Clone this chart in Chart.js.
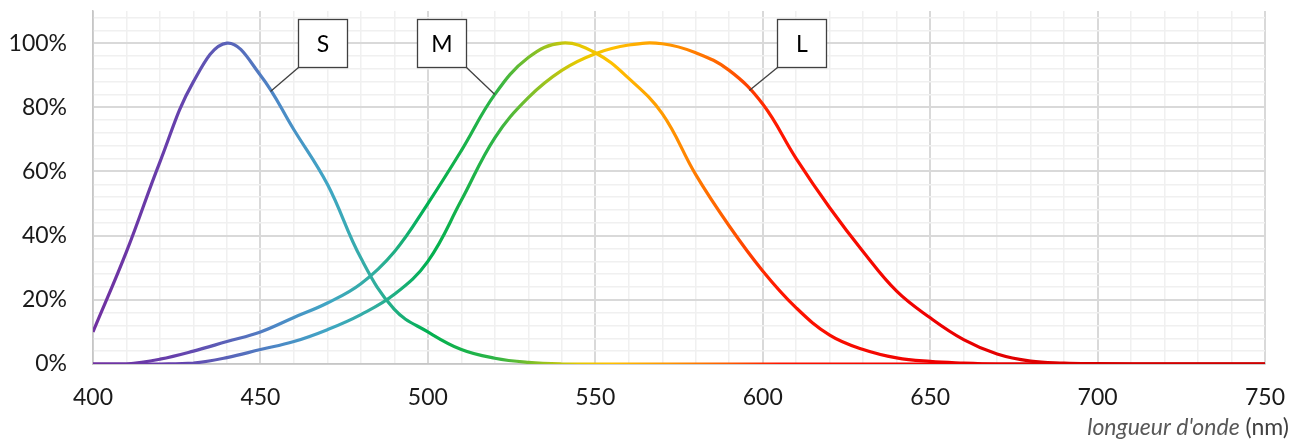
<!DOCTYPE html>
<html>
<head>
<meta charset="utf-8">
<script src="https://cdn.jsdelivr.net/npm/chart.js@4.4.0/dist/chart.umd.min.js"></script>
<style>
  html, body { margin: 0; padding: 0; background: #fff; }
  canvas { display: block; }
</style>
</head>
<body>
<canvas id="coneChart" width="1304" height="443"></canvas>
<script>
// wavelength (nm) and relative sensitivity (%) of each cone type
const wavelengths = [400, 410, 420, 430, 440, 450, 460, 470, 480, 490, 500, 510, 520, 530, 540, 550, 560, 570,
                     580, 590, 600, 610, 620, 630, 640, 650, 660, 670, 680, 690, 700, 710, 720, 730, 740, 750];
const sCone = [10, 35, 63, 88, 100, 90, 73, 56, 33, 17, 10, 4.5, 1.8, 0.5, 0, 0, 0, 0,
               0, 0, 0, 0, 0, 0, 0, 0, 0, 0, 0, 0, 0, 0, 0, 0, 0, 0];
const mCone = [0, 0, 1.5, 4, 7, 10, 14.5, 19, 25, 35, 50, 66.5, 84, 95.5, 100, 97, 89, 78,
               59, 43, 29, 17.5, 9, 4.5, 1.9, 0.8, 0.3, 0, 0, 0, 0, 0, 0, 0, 0, 0];
const lCone = [0, 0, 0, 0.3, 2, 4.5, 7, 10.7, 15.4, 21.7, 32, 51, 70.5, 83, 91.5, 96.7, 99.4, 99.8,
               97, 91.5, 81, 64, 48.7, 35, 22.7, 14.4, 7.6, 3.1, 0.9, 0.3, 0.1, 0, 0, 0, 0, 0];
const curveNames = ['S', 'M', 'L'];
const xMajorLabels = [400, 450, 500, 550, 600, 650, 700, 750];
const yMajorLabels = [0, 20, 40, 60, 80, 100];

// callout boxes: where the leader touches the curve, and where the box sits
const calloutAnchorNm = [453, 520, 596];
const calloutBoxNm = [468.6, 504, 611.6];
const calloutBoxLevel = 100;

// colour of the curve follows the wavelength
const spectrum = [
  [400, '#7030a0'], [425, '#6640ac'], [440, '#5a62b8'], [455, '#4c88c6'], [470, '#40a6c4'],
  [485, '#2fae9c'], [500, '#00b050'], [520, '#2db446'], [535, '#9cc31e'], [545, '#e6c800'],
  [555, '#ffc000'], [572, '#ff9500'], [590, '#ff5a00'], [605, '#ff1500'], [650, '#ee0000'],
  [700, '#d40000'], [750, '#cc0000']
];

const FONT = 'Lato, "Open Sans", sans-serif';

let gradCache = null, gradKey = '';
function spectrumGradient(chart) {
  const area = chart.chartArea;
  if (!area) return '#7030a0';
  const x = chart.scales.x;
  const x0 = x.getPixelForValue(400), x1 = x.getPixelForValue(750);
  const key = x0 + ':' + x1;
  if (gradCache && gradKey === key) return gradCache;
  const g = chart.ctx.createLinearGradient(x0, 0, x1, 0);
  spectrum.forEach(([nm, c]) => g.addColorStop((nm - 400) / 350, c));
  gradCache = g; gradKey = key;
  return g;
}

function valueAt(values, nm) {
  for (let i = 0; i < wavelengths.length - 1; i++) {
    if (nm >= wavelengths[i] && nm <= wavelengths[i + 1]) {
      const t = (nm - wavelengths[i]) / (wavelengths[i + 1] - wavelengths[i]);
      return values[i] + t * (values[i + 1] - values[i]);
    }
  }
  return 0;
}

const calloutPlugin = {
  id: 'callouts',
  afterDatasetsDraw(chart) {
    const { ctx, scales: { x, y } } = chart;
    const boxW = 49, boxH = 48;
    ctx.save();
    curveNames.forEach((name, i) => {
      const values = chart.data.datasets[i].data.map(p => p.y);
      const ax = x.getPixelForValue(calloutAnchorNm[i]);
      const ay = y.getPixelForValue(valueAt(values, calloutAnchorNm[i]));
      const bx = x.getPixelForValue(calloutBoxNm[i]);
      const by = y.getPixelForValue(calloutBoxLevel);
      const left = Math.round(bx - boxW / 2) + 0.5, top = Math.round(by - boxH / 2) + 0.5;
      const cx = ax < bx ? left : left + boxW;
      ctx.strokeStyle = '#404040';
      ctx.lineWidth = 1.3;
      ctx.beginPath();
      ctx.moveTo(cx, top + boxH);
      ctx.lineTo(ax, ay);
      ctx.stroke();
      ctx.fillStyle = '#fff';
      ctx.fillRect(left, top, boxW, boxH);
      ctx.strokeRect(left, top, boxW, boxH);
      ctx.fillStyle = '#000';
      ctx.font = '23px ' + FONT;
      ctx.textAlign = 'center';
      ctx.textBaseline = 'middle';
      ctx.fillText(name, left + boxW / 2, top + boxH / 2 + 1);
    });
    ctx.restore();
  }
};

const axisTitlePlugin = {
  id: 'axisTitle',
  afterDraw(chart) {
    const ctx = chart.ctx;
    ctx.save();
    ctx.textBaseline = 'alphabetic';
    ctx.textAlign = 'left';
    const italic = "longueur d'onde";
    const plain = ' (nm)';
    ctx.font = 'italic 23px ' + FONT;
    const w1 = ctx.measureText(italic).width;
    ctx.font = '23px ' + FONT;
    const w2 = ctx.measureText(plain).width;
    const right = 1289, base = 435;
    ctx.fillStyle = '#595959';
    ctx.font = 'italic 23px ' + FONT;
    ctx.fillText(italic, right - w1 - w2, base);
    ctx.fillStyle = '#404040';
    ctx.font = '23px ' + FONT;
    ctx.fillText(plain, right - w2, base);
    ctx.restore();
  }
};

const makeSet = (name, values) => ({
  label: name,
  data: wavelengths.map((w, i) => ({ x: w, y: values[i] })),
  borderColor: ctx => spectrumGradient(ctx.chart),
  borderWidth: 3.2,
  pointRadius: 0,
  fill: false,
  tension: 0.4
});

new Chart(document.getElementById('coneChart'), {
  type: 'line',
  data: {
    datasets: [makeSet('S', sCone), makeSet('M', mCone), makeSet('L', lCone)]
  },
  options: {
    responsive: false,
    animation: false,
    devicePixelRatio: 1,
    layout: { padding: { left: 0, right: 39, top: 11, bottom: 0 } },
    plugins: { legend: { display: false }, tooltip: { enabled: false } },
    scales: {
      x: {
        type: 'linear',
        min: 400,
        max: 750,
        afterFit: s => { s.height = 79; s.paddingLeft = 0; s.paddingRight = 0; },
        border: { display: true, color: '#c6c6c6', width: 1.5 },
        grid: {
          drawTicks: false,
          color: c => (c.tick.value % 50 === 0 ? '#d9d9d9' : '#f0f0f0'),
          lineWidth: c => (c.tick.value % 50 === 0 ? 2 : 1.5)
        },
        ticks: {
          stepSize: 10,
          maxTicksLimit: 100,
          autoSkip: false,
          maxRotation: 0,
          minRotation: 0,
          padding: 20,
          color: '#1a1a1a',
          font: { family: FONT, size: 23 },
          callback: v => (xMajorLabels.includes(v) ? String(v) : '')
        }
      },
      y: {
        min: 0,
        max: 110,
        afterFit: s => { s.width = 93; s.paddingTop = 0; s.paddingBottom = 0; },
        border: { display: true, color: '#c6c6c6', width: 1.5 },
        grid: {
          drawTicks: false,
          color: c => (c.tick.value % 20 === 0 ? '#d9d9d9' : '#f0f0f0'),
          lineWidth: c => (c.tick.value % 20 === 0 ? 2 : 1.5)
        },
        ticks: {
          stepSize: 4,
          includeBounds: false,
          maxTicksLimit: 100,
          autoSkip: false,
          padding: 26,
          color: '#1a1a1a',
          font: { family: FONT, size: 23 },
          callback: v => (yMajorLabels.includes(v) ? v + '%' : '')
        }
      }
    }
  },
  plugins: [calloutPlugin, axisTitlePlugin]
});
</script>
</body>
</html>
